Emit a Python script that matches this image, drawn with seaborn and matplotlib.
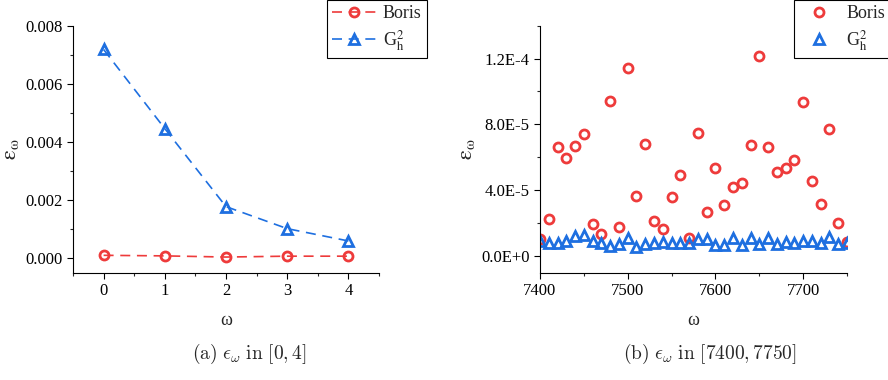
import numpy as np
import pandas as pd
import seaborn as sns
import matplotlib.pyplot as plt
from matplotlib.ticker import MultipleLocator, FixedLocator, FixedFormatter

sns.set_style("white")
plt.rcParams['font.family'] = ['Liberation Serif', 'DejaVu Serif']
plt.rcParams['mathtext.fontset'] = 'stix'

red = '#EE3B3B'
blue = '#1E6FE0'

# panel (a): omega in [0, 4]
omega_a = [0, 1, 2, 3, 4]
boris_a = [0.00008, 0.00006, 0.00002, 0.00005, 0.00005]
gh_a = [0.00718, 0.00445, 0.00176, 0.00100, 0.000575]

# panel (b): omega in [7400, 7750]
omega_b = list(range(7400, 7751, 10))
boris_b = [1.0e-5, 2.23e-5, 6.62e-5, 5.97e-5, 6.68e-5, 7.43e-5, 1.93e-5, 1.34e-5,
           9.42e-5, 1.75e-5, 1.145e-4, 3.63e-5, 6.8e-5, 2.09e-5, 1.64e-5, 3.55e-5,
           4.89e-5, 1.08e-5, 7.49e-5, 2.68e-5, 5.36e-5, 3.07e-5, 4.18e-5, 4.45e-5,
           6.72e-5, 1.214e-4, 6.64e-5, 5.1e-5, 5.32e-5, 5.83e-5, 9.36e-5, 4.55e-5,
           3.13e-5, 7.69e-5, 2.01e-5, 8.5e-6]
gh_b = [9e-6, 8e-6, 8e-6, 9e-6, 1.2e-5, 1.26e-5, 9e-6, 7.5e-6, 6e-6, 7e-6, 1.1e-5,
        5.5e-6, 7e-6, 8e-6, 8.3e-6, 8e-6, 7.5e-6, 8e-6, 1.0e-5, 1.0e-5, 6.5e-6,
        6.5e-6, 1.1e-5, 6.5e-6, 1.07e-5, 7e-6, 1.07e-5, 7e-6, 8.5e-6, 7.5e-6, 9e-6,
        9e-6, 8e-6, 1.15e-5, 7e-6, 7.5e-6]
yticks_b = [0.0, 4e-5, 8e-5, 1.2e-4]
ytick_labels_b = ["0.0E+0", "4.0E-5", "8.0E-5", "1.2E-4"]

gh_label = r"G$_\mathrm{h}^2$"
ylab = r"$\mathrm{\varepsilon}_{\mathrm{\omega}}$"

fig = plt.figure(figsize=(8.88, 3.8), dpi=100)
ax1 = fig.add_axes([73/888, 1-272.7/380, 306/888, 247/380])
ax2 = fig.add_axes([540/888, 1-272.7/380, 307/888, 247/380])

mk = dict(markersize=6.5, mew=2.0, mfc='none')
dash = (0, (6, 4))

sns.lineplot(x=omega_a, y=boris_a, ax=ax1, color=red, marker='o', mec=red,
             linestyle=dash, lw=1.2, label="Boris", **mk)
sns.lineplot(x=omega_a, y=gh_a, ax=ax1, color=blue, marker='^', mec=blue,
             linestyle=dash, lw=1.2, label=gh_label, **mk)

sns.lineplot(x=omega_b, y=boris_b, ax=ax2, color=red, marker='o', mec=red,
             linestyle='None', label="Boris", **mk)
sns.lineplot(x=omega_b, y=gh_b, ax=ax2, color=blue, marker='^', mec=blue,
             linestyle='None', label=gh_label, **mk)

ax1.set_xlim(-0.5, 4.5)
ax1.set_ylim(-0.00052, 0.008)
ax1.xaxis.set_major_locator(MultipleLocator(1))
ax1.xaxis.set_minor_locator(MultipleLocator(0.5))
ax1.yaxis.set_major_locator(MultipleLocator(0.002))
ax1.yaxis.set_minor_locator(MultipleLocator(0.001))
ax1.yaxis.set_major_formatter(plt.FuncFormatter(lambda v, p: f"{v:.3f}"))

ax2.set_xlim(7400, 7750)
ax2.set_ylim(-1.03e-5, 1.4e-4)
ax2.xaxis.set_major_locator(MultipleLocator(100))
ax2.xaxis.set_minor_locator(MultipleLocator(50))
ax2.yaxis.set_major_locator(FixedLocator(yticks_b))
ax2.yaxis.set_major_formatter(FixedFormatter(ytick_labels_b))
ax2.yaxis.set_minor_locator(MultipleLocator(2e-5))

for ax in (ax1, ax2):
    sns.despine(ax=ax)
    for s in ('left', 'bottom'):
        ax.spines[s].set_linewidth(0.8)
        ax.spines[s].set_color('black')
    ax.tick_params(which='major', direction='out', length=4, width=0.8,
                   labelsize=12, colors='black', left=True, bottom=True)
    ax.tick_params(which='minor', direction='out', length=2.5, width=0.8,
                   left=True, bottom=True)
    ax.set_xlabel("ω", fontsize=13, labelpad=9)
    ax.set_ylabel(ylab, fontsize=16, labelpad=3)

leg_kw = dict(bbox_transform=fig.transFigure, loc='upper left', fontsize=13,
              borderpad=0.3, labelspacing=0.3, borderaxespad=0, fancybox=False,
              framealpha=1, edgecolor='black')
leg1 = ax1.legend(bbox_to_anchor=(327/888, 1.0), handlelength=2.4,
                  handletextpad=0.4, **leg_kw)
leg2 = ax2.legend(bbox_to_anchor=(794/888, 1.0), handlelength=2.2,
                  handletextpad=0.4, **leg_kw)
for leg in (leg1, leg2):
    leg.get_frame().set_linewidth(0.8)

fig.text(249/888, 1-354/380, r"$\mathrm{(a)}\ \epsilon_\omega\ \mathrm{in}\ [0,4]$",
         ha='center', va='center', fontsize=14, math_fontfamily='cm')
fig.text(710/888, 1-354/380, r"$\mathrm{(b)}\ \epsilon_\omega\ \mathrm{in}\ [7400,7750]$",
         ha='center', va='center', fontsize=14, math_fontfamily='cm')

fig.savefig("out.png", dpi=100)
